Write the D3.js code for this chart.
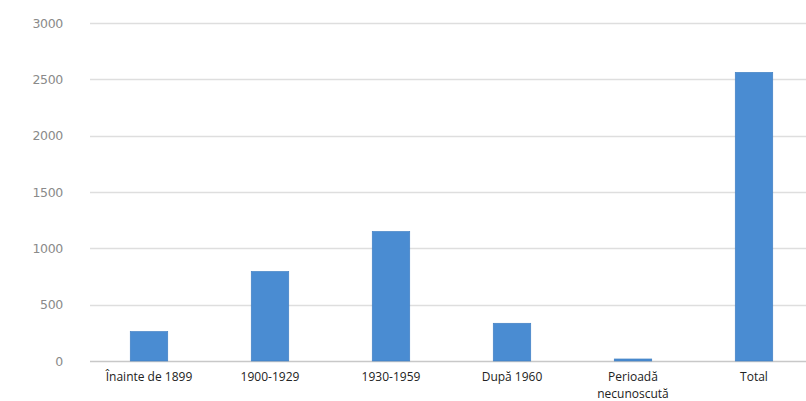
<!DOCTYPE html>
<html lang="ro">
<head>
    <meta charset="UTF-8">
    <title>Chart</title>
    <script src="https://cdn.jsdelivr.net/npm/d3@7"></script>
    <style>
        body { margin: 0; background: #fff; }
    </style>
</head>
<body>
    <svg></svg>
    <script>
        // date
        let categories = [["Înainte de 1899"], ["1900-1929"], ["1930-1959"], ["După 1960"], ["Perioadă", "necunoscută"], ["Total"]];
        let values = [262, 795, 1150, 335, 18, 2562];
        let yTicks = [0, 500, 1000, 1500, 2000, 2500, 3000];

        let svgWidth = 806, svgHeight = 401;
        let marginLeft = 88.5, plotBottom = 361, plotTop = 23;

        let svg = d3.select('svg')
            .attr("width", svgWidth)
            .attr("height", svgHeight)
            .style("font-family", "'Open Sans', sans-serif");

        let x = d3.scaleBand()
            .domain(d3.range(categories.length))
            .range([marginLeft, marginLeft + 121 * categories.length])
            .paddingInner(0.69)
            .paddingOuter(0.345);

        let y = d3.scaleLinear()
            .domain([0, 3000])
            .range([plotBottom, plotTop]);

        // linii de grilă
        svg.append("g")
            .selectAll("line")
            .data(yTicks)
            .enter()
            .append("line")
            .attr("x1", 90)
            .attr("x2", svgWidth)
            .attr("y1", d => Math.round(y(d)) + 0.5)
            .attr("y2", d => Math.round(y(d)) + 0.5)
            .attr("stroke", d => d === 0 ? "#c8c8c8" : "#dedede")
            .attr("stroke-width", 1.5);

        // etichete axa Y
        let yAxis = d3.axisLeft(y).tickValues(yTicks).tickFormat(d3.format("d")).tickSize(0).tickPadding(0);
        let gy = svg.append("g")
            .attr("transform", "translate(63,0)")
            .call(yAxis);
        gy.select(".domain").remove();
        gy.selectAll("text")
            .attr("fill", "#8a8a8a")
            .attr("font-size", 12.5)
            .attr("font-family", "'DejaVu Sans', sans-serif")
            .style("letter-spacing", "-0.3px");

        // bare
        svg.append("g")
            .selectAll("rect")
            .data(values)
            .enter()
            .append("rect")
            .attr("x", (d, i) => x(i))
            .attr("width", x.bandwidth())
            .attr("y", d => y(d))
            .attr("height", d => plotBottom - y(d))
            .attr("fill", "#4a8cd2")
            .attr("stroke", "#3f7dc0")
            .attr("stroke-width", 0.6);

        // etichete axa X (fiecare rând e un text separat)
        categories.forEach((lines, i) => {
            svg.append("g")
                .selectAll("text")
                .data(lines)
                .enter()
                .append("text")
                .attr("text-anchor", "middle")
                .attr("x", x(i) + x.bandwidth() / 2)
                .attr("y", (d, j) => 381 + j * 16.5)
                .attr("fill", "#222")
                .attr("font-size", 12)
                .text(d => d);
        });
    </script>
</body>
</html>
